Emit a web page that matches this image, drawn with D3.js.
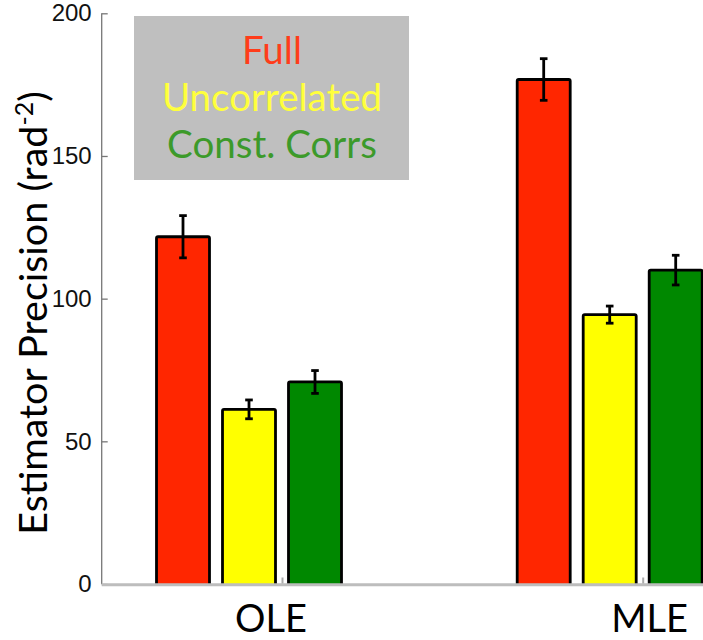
<!DOCTYPE html>
<html>
<head>
<meta charset="utf-8">
<script src="https://cdn.jsdelivr.net/npm/d3@7"></script>
<style>
  html, body { margin: 0; padding: 0; background: #fff; }
  svg { display: block; }
</style>
</head>
<body>
<svg id="chart" width="703" height="640"></svg>
<script>
// Estimator groups and the three covariance models
const groups = ["OLE", "MLE"];
const series = ["Full", "Uncorrelated", "Const. Corrs"];

// Mean precision per group (rad^-2) and error-bar half widths
const fullValues = [121.7, 176.8];
const fullErrors = [7.4, 7.3];
const uncorrelatedValues = [61.2, 94.4];
const uncorrelatedErrors = [3.3, 3.0];
const constCorrsValues = [70.8, 110.0];
const constCorrsErrors = [4.0, 5.2];

const yTicks = [0, 50, 100, 150, 200];

const barColors = ["#ff2600", "#ffff00", "#008800"];
const legendColors = ["#ff3c1a", "#ffff3c", "#3c9a2a"];

const valuesBySeries = [fullValues, uncorrelatedValues, constCorrsValues];
const errorsBySeries = [fullErrors, uncorrelatedErrors, constCorrsErrors];

const rows = [];
groups.forEach((g, gi) => {
  series.forEach((s, si) => {
    rows.push({ group: g, series: s, si, value: valuesBySeries[si][gi], err: errorsBySeries[si][gi] });
  });
});

const svg = d3.select("#chart");

const y = d3.scaleLinear().domain([0, 200]).range([584, 13.3]);
const x = d3.scalePoint().domain(groups).range([282, 642.7]);
// offsets of each series bar relative to the group tick
const xSub = d3.scaleBand().domain(series).range([-132, 66]).paddingInner(13 / 66).paddingOuter(6.5 / 66);

const axisX0 = 101.7;

// bars
const bars = svg.append("g");
bars.selectAll("rect")
  .data(rows)
  .join("rect")
  .attr("x", d => x(d.group) + xSub(d.series))
  .attr("y", d => y(d.value))
  .attr("width", xSub.bandwidth())
  .attr("height", d => y(0) - y(d.value) + 4)
  .attr("rx", 1.5)
  .attr("fill", d => barColors[d.si])
  .attr("stroke", "#000")
  .attr("stroke-width", 2.8);

// error bars
const cap = 3.8;
const eb = svg.append("g").attr("stroke", "#000").attr("stroke-width", 2.8).attr("fill", "none");
rows.forEach(d => {
  const cx = x(d.group) + xSub(d.series) + xSub.bandwidth() / 2;
  eb.append("line").attr("x1", cx).attr("x2", cx).attr("y1", y(d.value + d.err)).attr("y2", y(d.value - d.err));
  eb.append("line").attr("x1", cx - cap).attr("x2", cx + cap).attr("y1", y(d.value + d.err)).attr("y2", y(d.value + d.err));
  eb.append("line").attr("x1", cx - cap).attr("x2", cx + cap).attr("y1", y(d.value - d.err)).attr("y2", y(d.value - d.err));
});

// white cover below baseline so bars end at the axis
svg.append("rect").attr("x", 0).attr("y", y(0) + 1).attr("width", 703).attr("height", 60).attr("fill", "#fff");

// y axis
const yAxis = d3.axisLeft(y).tickValues(yTicks).tickSize(-6).tickPadding(10).tickFormat(d3.format("d"));
const gy = svg.append("g").attr("transform", `translate(${axisX0},0)`).call(yAxis);
gy.select(".domain").remove();
gy.append("line").attr("x1", 0).attr("x2", 0).attr("y1", y(200)).attr("y2", y(0)).attr("stroke", "#777").attr("stroke-width", 1.3);
gy.selectAll(".tick line").attr("stroke", "#777").attr("stroke-width", 1.3);
gy.selectAll(".tick text")
  .attr("fill", "#111")
  .style("font-family", "'Liberation Sans', Arial, sans-serif")
  .style("font-size", "24px");

// x axis baseline
svg.append("line").attr("x1", axisX0).attr("x2", 703).attr("y1", y(0) + 0.8).attr("y2", y(0) + 0.8)
  .attr("stroke", "#bdbdbd").attr("stroke-width", 3);

// x ticks
const xAxis = d3.axisBottom(x).tickSize(-6).tickFormat("");
const gx = svg.append("g").attr("transform", `translate(0,${y(0) - 0.5})`).call(xAxis);
gx.select(".domain").remove();
gx.selectAll(".tick line").attr("stroke", "#aaa").attr("stroke-width", 2);

// group labels
const labelOffsets = { OLE: -11, MLE: 7 };
svg.append("g").selectAll("text")
  .data(groups)
  .join("text")
  .attr("x", d => x(d) + labelOffsets[d])
  .attr("y", 632)
  .attr("text-anchor", "middle")
  .style("font-family", "Lato, 'Open Sans', sans-serif")
  .style("font-size", "38px")
  .attr("fill", "#000")
  .text(d => d);

// y axis title
const yTitle = svg.append("text")
  .attr("transform", `translate(47,${313}) rotate(-90)`)
  .attr("text-anchor", "middle")
  .style("font-family", "Lato, 'Open Sans', sans-serif")
  .style("font-size", "39.5px")
  .attr("fill", "#000");
yTitle.append("tspan").text("Estimator Precision (rad");
yTitle.append("tspan").attr("dy", -14).style("font-size", "25px").text("-2");
yTitle.append("tspan").attr("dy", 14).text(")");

// legend
const legend = svg.append("g");
legend.append("rect").attr("x", 134).attr("y", 16).attr("width", 275).attr("height", 164).attr("fill", "#bfbfbf");
legend.selectAll("text")
  .data(series)
  .join("text")
  .attr("x", 272)
  .attr("y", (d, i) => 64 + i * 47)
  .attr("text-anchor", "middle")
  .style("font-family", "Lato, 'Open Sans', sans-serif")
  .style("font-size", "38.5px")
  .attr("fill", (d, i) => legendColors[i])
  .text(d => d);
</script>
</body>
</html>
